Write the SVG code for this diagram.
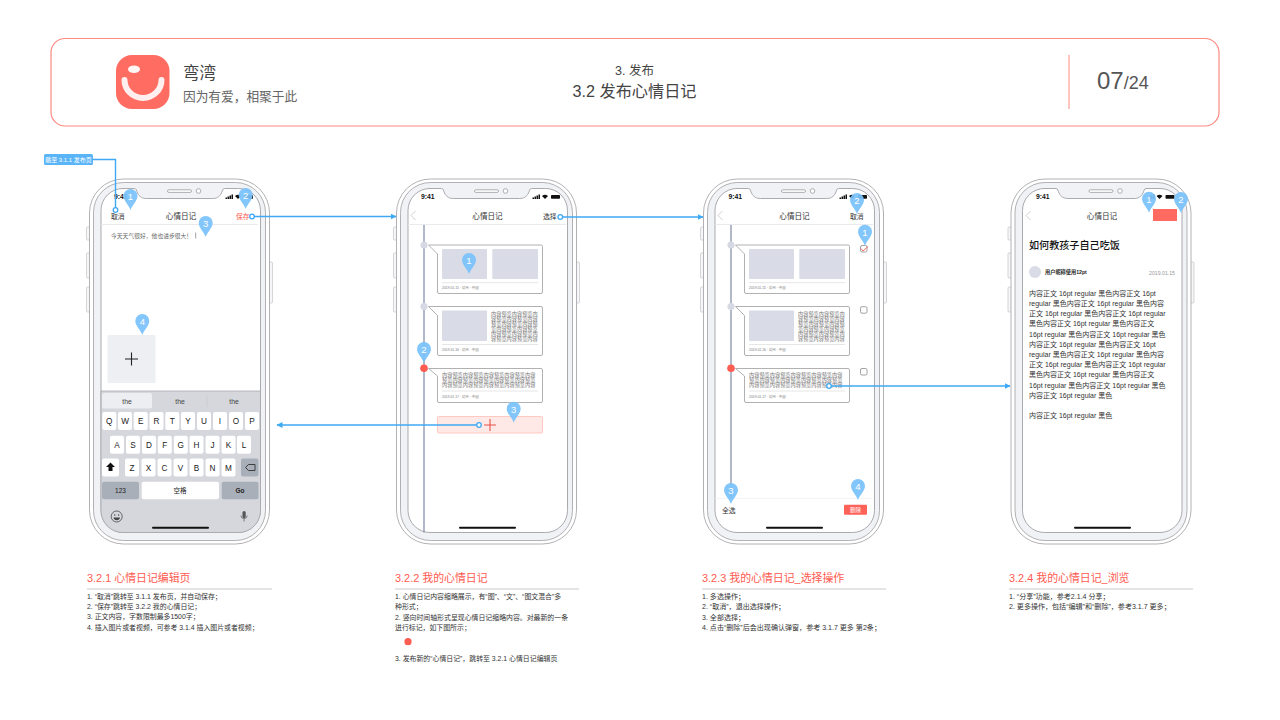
<svg xmlns="http://www.w3.org/2000/svg" xmlns:xlink="http://www.w3.org/1999/xlink" width="1280" height="720" viewBox="0 0 1280 720">
<style>
svg>g{opacity:.999}
text{font-family:"Liberation Sans","Noto Sans CJK SC",sans-serif;fill:#333}
.nav{font-size:7.6px;text-anchor:middle}
.act{font-size:6.8px}
.time{font-size:6.8px;font-weight:700;fill:#111}
.h{font-size:10.9px;fill:#ff5a50}
.b{font-size:6.9px;fill:#333}
.b2{font-size:7.05px;fill:#333}
.rule{stroke:#cacaca;stroke-width:1}
.pn{font-size:9.5px;fill:#fff;text-anchor:middle}
.key{font-size:8.2px;text-anchor:middle;fill:#222}
.k{fill:#fff}
.kd{fill:#a9afb9}
.sug{font-size:6.8px;text-anchor:middle;fill:#444}
.card{fill:#fff;stroke:#a8a8a8;stroke-width:.9}
.img{fill:#d9dce6}
.dv{stroke:#e6e6e6;stroke-width:1}
.meta{font-size:3.4px;fill:#777}
.pre{font-size:5.2px;fill:#777}
.body{font-size:7px;fill:#333}
.line{stroke:#e9e9ee;stroke-width:1}
.chev{fill:none;stroke:#c8c8c8;stroke-width:.9}
.tl{stroke:#7f89a6;stroke-width:1.2}
.dot{fill:#d6d9e3}
.red{fill:#ff5c52}
.cb{fill:#fff;stroke:#8a8a8a;stroke-width:.8}
.cn{fill:none;stroke:#3fa9f5;stroke-width:1.4}
.cc{fill:#fff;stroke:#3ea8f6;stroke-width:1.3}
</style>
<defs>
<g id="frame">
<rect x="-3" y="48" width="4" height="13" rx="1" fill="#f6f6f8" stroke="#c4c4c8" stroke-width=".7"/>
<rect x="-3" y="74" width="4" height="25" rx="1" fill="#f6f6f8" stroke="#c4c4c8" stroke-width=".7"/>
<rect x="-3" y="108" width="4" height="25" rx="1" fill="#f6f6f8" stroke="#c4c4c8" stroke-width=".7"/>
<rect x="179" y="83" width="4" height="41" rx="1" fill="#f6f6f8" stroke="#c4c4c8" stroke-width=".7"/>
<rect x="0" y="0" width="180" height="365" rx="34" fill="#fff" stroke="#a9a9ad" stroke-width=".9"/>
<rect x="4" y="3.500" width="172" height="358" rx="30" fill="#f1f2f5" stroke="#a9a9ad" stroke-width=".9"/>
<path d="M33 9.500H45C47 9.500 47 12 48 14C50 18 53 19.500 57 19.500H123C127 19.500 130 18 132 14C133 12 133 9.500 135 9.500H149A22 22 0 0 1 171 31.500V331.500A22 22 0 0 1 149 353.500H33.500A22 22 0 0 1 11.500 331.500V31.500A22 22 0 0 1 33.500 9.500Z" fill="#fff" stroke="#a2a2a6" stroke-width=".9"/>
<rect x="78" y="10.800" width="24" height="2.600" rx="1.300" fill="#fff" stroke="#8f8f93" stroke-width=".7"/>
<circle cx="109" cy="12" r="2.300" fill="#fff" stroke="#8f8f93" stroke-width=".7"/>
</g>
<g id="status">
<rect x="136" y="18.500" width="1.500" height="1.500" fill="#111"/><rect x="138" y="17.500" width="1.500" height="2.500" fill="#111"/><rect x="140" y="16.500" width="1.500" height="3.500" fill="#111"/><rect x="142" y="15.500" width="1.500" height="4.500" fill="#111"/>
<path d="M145.500 17A4.500 4.500 0 0 1 151.500 17L148.500 20Z" fill="#111"/>
<rect x="154.500" y="16" width="9" height="3.800" rx=".8" fill="#111"/>
</g>
<path id="pin" d="M0 0C-1.500 -5 -7 -9 -7 -14A7 7 0 1 1 7 -14C7 -9 1.500 -5 0 0Z" fill="#78c2fb" fill-opacity=".93"/>
<marker id="arr" markerWidth="7" markerHeight="7" refX="5.500" refY="3" orient="auto" markerUnits="userSpaceOnUse"><path d="M0 0L6 3L0 6Z" fill="#3fa9f5"/></marker>
</defs>
<rect width="1280" height="720" fill="#fff"/>

<g id="header">
<rect x="51" y="38.500" width="1168" height="87.500" rx="14" fill="#fff" stroke="#ff8a80" stroke-width="1.200"/>
<rect x="116" y="55" width="53.500" height="54" rx="16" fill="#ff6c62"/>
<ellipse cx="134" cy="69.300" rx="6" ry="3.800" fill="#fff6f5"/>
<path d="M124.500 80A18.500 18 0 0 0 161.500 80" fill="none" stroke="#fff" stroke-opacity=".9" stroke-width="6" stroke-linecap="round"/>
<text x="183" y="78.500" font-size="16.500" style="fill:#444">弯湾</text>
<text x="183" y="101" font-size="12.700" style="fill:#666">因为有爱，相聚于此</text>
<text x="634.500" y="75" font-size="12.500" text-anchor="middle" style="fill:#444">3. 发布</text>
<text x="634.500" y="96.500" font-size="16.200" text-anchor="middle" style="fill:#444">3.2 发布心情日记</text>
<line x1="1069" y1="55" x2="1069" y2="109" stroke="#ff8a80" stroke-width="1"/>
<text x="1097" y="89" font-size="24" style="fill:#555">07<tspan font-size="18">/24</tspan></text>
</g>

<g id="phone-1">
<use href="#frame" x="89.500" y="179"/>
<use href="#status" x="89.500" y="179"/>
<text class="time" x="114" y="198.700">9:41</text>
<text class="act" x="111" y="218.500">取消</text>
<text class="nav" x="181" y="218.500">心情日记</text>
<text class="act" x="236" y="218.500" style="fill:#ff5a50">保存</text>
<line class="line" x1="101" y1="224.500" x2="258" y2="224.500"/>
<text x="111" y="237.500" font-size="5.800" style="fill:#666">今天天气很好，他也进步很大！</text>
<line x1="195.700" y1="232.500" x2="195.700" y2="238.500" stroke="#666" stroke-width=".6"/>
<rect x="107.500" y="335" width="48" height="48" rx="1" fill="#eeeff3"/>
<path d="M125 359H138M131.500 352.500V365.500" stroke="#222" stroke-width="1.100"/>
<path d="M101 391H260.500V510.500A22 22 0 0 1 238.500 532.500H123A22 22 0 0 1 101 510.500Z" fill="#d5d7dd" stroke="#a2a2a6" stroke-width=".7"/>
<rect x="102" y="393" width="50" height="15.500" rx="2" fill="#eceef1"/>
<line x1="207" y1="396" x2="207" y2="407" stroke="#c4c6cc" stroke-width=".6"/>
<text class="sug" x="127" y="403.500">the</text><text class="sug" x="180" y="403.500">the</text><text class="sug" x="234" y="403.500">the</text>
<g>
<rect class="k" x="102.300" y="412" width="14" height="18" rx="2"/><rect class="k" x="118" y="412" width="14" height="18" rx="2"/><rect class="k" x="133.700" y="412" width="14" height="18" rx="2"/><rect class="k" x="149.500" y="412" width="14" height="18" rx="2"/><rect class="k" x="165.300" y="412" width="14" height="18" rx="2"/><rect class="k" x="181" y="412" width="14" height="18" rx="2"/><rect class="k" x="197" y="412" width="14" height="18" rx="2"/><rect class="k" x="213" y="412" width="14" height="18" rx="2"/><rect class="k" x="229" y="412" width="14" height="18" rx="2"/><rect class="k" x="245" y="412" width="14" height="18" rx="2"/>
<text class="key" x="109.300" y="424">Q</text><text class="key" x="125" y="424">W</text><text class="key" x="140.700" y="424">E</text><text class="key" x="156.500" y="424">R</text><text class="key" x="172.300" y="424">T</text><text class="key" x="188" y="424">Y</text><text class="key" x="204" y="424">U</text><text class="key" x="220" y="424">I</text><text class="key" x="236" y="424">O</text><text class="key" x="252" y="424">P</text>
<rect class="k" x="110" y="435.700" width="14" height="18" rx="2"/><rect class="k" x="126" y="435.700" width="14" height="18" rx="2"/><rect class="k" x="142" y="435.700" width="14" height="18" rx="2"/><rect class="k" x="157.800" y="435.700" width="14" height="18" rx="2"/><rect class="k" x="173.800" y="435.700" width="14" height="18" rx="2"/><rect class="k" x="189.500" y="435.700" width="14" height="18" rx="2"/><rect class="k" x="205.500" y="435.700" width="14" height="18" rx="2"/><rect class="k" x="221.500" y="435.700" width="14" height="18" rx="2"/><rect class="k" x="237" y="435.700" width="14" height="18" rx="2"/>
<text class="key" x="117" y="447.700">A</text><text class="key" x="133" y="447.700">S</text><text class="key" x="149" y="447.700">D</text><text class="key" x="164.800" y="447.700">F</text><text class="key" x="180.800" y="447.700">G</text><text class="key" x="196.500" y="447.700">H</text><text class="key" x="212.500" y="447.700">J</text><text class="key" x="228.500" y="447.700">K</text><text class="key" x="244" y="447.700">L</text>
<rect class="k" x="102" y="458.500" width="17" height="18" rx="2"/><path d="M106 467L110.500 462.500L115 467H112.500V471H108.500V467Z" fill="#111"/>
<rect class="k" x="125" y="458.500" width="14" height="18" rx="2"/><rect class="k" x="141.500" y="458.500" width="14" height="18" rx="2"/><rect class="k" x="157.500" y="458.500" width="14" height="18" rx="2"/><rect class="k" x="173.500" y="458.500" width="14" height="18" rx="2"/><rect class="k" x="189.500" y="458.500" width="14" height="18" rx="2"/><rect class="k" x="205.500" y="458.500" width="14" height="18" rx="2"/><rect class="k" x="221.500" y="458.500" width="14" height="18" rx="2"/>
<text class="key" x="132" y="470.500">Z</text><text class="key" x="148.500" y="470.500">X</text><text class="key" x="164.500" y="470.500">C</text><text class="key" x="180.500" y="470.500">V</text><text class="key" x="196.500" y="470.500">B</text><text class="key" x="212.500" y="470.500">N</text><text class="key" x="228.500" y="470.500">M</text>
<rect class="kd" x="241" y="458.500" width="17.500" height="18" rx="2"/><path d="M245.500 467.500L248.500 464.500H255V470.500H248.500Z" fill="none" stroke="#222" stroke-width=".8"/>
<rect class="kd" x="102" y="481.700" width="37" height="17.500" rx="2"/><rect class="k" x="141.700" y="481.700" width="77.300" height="17.500" rx="2"/><rect class="kd" x="221.700" y="481.700" width="36.800" height="17.500" rx="2"/>
<text class="key" x="120.500" y="493" style="font-size:6.500px">123</text><text class="key" x="180" y="493" style="font-size:6.500px">空格</text><text class="key" x="240" y="493" style="font-size:6.500px;font-weight:700">Go</text>
<circle cx="116.700" cy="516.500" r="5.500" fill="none" stroke="#444" stroke-width=".8"/><path d="M113.500 517.500A3.300 3.300 0 0 0 120 517.500Z" fill="#444"/><circle cx="114.800" cy="515" r=".7" fill="#444"/><circle cx="118.600" cy="515" r=".7" fill="#444"/>
<rect x="242.500" y="511" width="3.200" height="7" rx="1.600" fill="#555"/><path d="M241 515.500A3 3 0 0 0 247.200 515.500M244.100 518.500V521.500" fill="none" stroke="#555" stroke-width=".7"/>
</g>
<rect x="152" y="526.800" width="57" height="2" rx="1" fill="#111"/>
<use href="#pin" x="130.500" y="210"/><text class="pn" x="130.500" y="200">1</text>
<use href="#pin" x="245.700" y="209"/><text class="pn" x="245.700" y="199">2</text>
<use href="#pin" x="205.700" y="237"/><text class="pn" x="205.700" y="227">3</text>
<use href="#pin" x="142.300" y="335"/><text class="pn" x="142.300" y="325">4</text>
</g>

<g id="phone-2">
<use href="#frame" x="396.500" y="179"/>
<use href="#status" x="396.500" y="179"/>
<text class="time" x="421" y="198.700">9:41</text>
<path class="chev" d="M415.500 211L411 215.500L415.500 220"/>
<text class="nav" x="487.500" y="218.500">心情日记</text>
<text class="act" x="543" y="218.500">选择</text>
<line class="line" x1="408" y1="224.500" x2="566" y2="224.500"/>
<line class="tl" x1="424" y1="225" x2="424" y2="532.500"/>
<circle class="dot" cx="424" cy="245" r="3.600"/><circle class="dot" cx="424" cy="306.500" r="3.600"/><circle class="red" cx="424" cy="368.300" r="3.800"/>
<path class="card" d="M428.500 245H541A1.500 1.500 0 0 1 542.500 246.500V292A1.500 1.500 0 0 1 541 293.500H439A1.500 1.500 0 0 1 437.500 292V254Z"/>
<rect class="img" x="442" y="249" width="45" height="30" rx=".8"/><rect class="img" x="492.300" y="249" width="45.700" height="30" rx=".8"/>
<line class="dv" x1="442" y1="282.700" x2="538" y2="282.700"/>
<text class="meta" x="442" y="289">2019.01.15 · 杭州 · 中国</text>
<path class="card" d="M428.500 306.500H541A1.500 1.500 0 0 1 542.500 308V354A1.500 1.500 0 0 1 541 355.500H439A1.500 1.500 0 0 1 437.500 354V315.500Z"/>
<rect class="img" x="442" y="310.500" width="45" height="30.500" rx=".8"/>
<text class="pre"><tspan x="491" y="315.500">内容预览内容预览内</tspan><tspan x="491" y="320.500">容预览内容预览内容</tspan><tspan x="491" y="325.500">预览内容预览内容预</tspan><tspan x="491" y="330.500">览内容预览内容预览</tspan><tspan x="491" y="335.500">内容预览内容预览内</tspan><tspan x="491" y="340.500">容预览内容预览内容</tspan></text>
<line class="dv" x1="442" y1="344.500" x2="538" y2="344.500"/>
<text class="meta" x="442" y="351">2019.01.16 · 杭州 · 中国</text>
<path class="card" d="M428.500 368.500H541A1.500 1.500 0 0 1 542.500 370V401A1.500 1.500 0 0 1 541 402.500H439A1.500 1.500 0 0 1 437.500 401V376Z"/>
<text class="pre"><tspan x="442" y="376.500">内容预览内容预览内容预览内容预览内容</tspan><tspan x="442" y="381.500">预览内容预览内容预览内容预览内容预览</tspan><tspan x="442" y="386.500">内容预览内容预览内容预览内容预览内容</tspan></text>
<line class="dv" x1="442" y1="391" x2="538" y2="391"/>
<text class="meta" x="442" y="398">2019.01.17 · 杭州 · 中国</text>
<rect x="437.500" y="416.500" width="105" height="16.500" rx="1" fill="#ffe9e7" stroke="#ffbcb6" stroke-width=".8"/>
<path d="M484 425H496M490 419V431" stroke="#e8534a" stroke-width="1.100"/>
<rect x="459" y="526.800" width="57" height="2" rx="1" fill="#111"/>
<use href="#pin" x="469" y="274"/><text class="pn" x="469" y="264">1</text>
<use href="#pin" x="424" y="363"/><text class="pn" x="424" y="353">2</text>
<use href="#pin" x="513.700" y="422.700"/><text class="pn" x="513.700" y="412.700">3</text>
</g>

<g id="phone-3">
<use href="#frame" x="703.500" y="179"/>
<use href="#status" x="703.500" y="179"/>
<text class="time" x="728.500" y="198.700">9:41</text>
<path class="chev" d="M722.500 211L718 215.500L722.500 220"/>
<text class="nav" x="794.500" y="218.500">心情日记</text>
<text class="act" x="850" y="218.500">取消</text>
<line class="line" x1="715" y1="224.500" x2="873" y2="224.500"/>
<line class="tl" x1="731" y1="225" x2="731" y2="498"/>
<circle class="dot" cx="731" cy="245" r="3.600"/><circle class="dot" cx="731" cy="306.500" r="3.600"/><circle class="red" cx="731" cy="368.300" r="3.800"/>
<path class="card" d="M735.500 245H848A1.500 1.500 0 0 1 849.500 246.500V292A1.500 1.500 0 0 1 848 293.500H746A1.500 1.500 0 0 1 744.500 292V254Z"/>
<rect class="img" x="749" y="249" width="45" height="30" rx=".8"/><rect class="img" x="799.300" y="249" width="45.700" height="30" rx=".8"/>
<line class="dv" x1="749" y1="282.700" x2="845" y2="282.700"/>
<text class="meta" x="749" y="289">2019.01.15 · 杭州 · 中国</text>
<path class="card" d="M735.500 306.500H848A1.500 1.500 0 0 1 849.500 308V354A1.500 1.500 0 0 1 848 355.500H746A1.500 1.500 0 0 1 744.500 354V315.500Z"/>
<rect class="img" x="749" y="310.500" width="45" height="30.500" rx=".8"/>
<text class="pre"><tspan x="798" y="315.500">内容预览内容预览内</tspan><tspan x="798" y="320.500">容预览内容预览内容</tspan><tspan x="798" y="325.500">预览内容预览内容预</tspan><tspan x="798" y="330.500">览内容预览内容预览</tspan><tspan x="798" y="335.500">内容预览内容预览内</tspan><tspan x="798" y="340.500">容预览内容预览内容</tspan></text>
<line class="dv" x1="749" y1="344.500" x2="845" y2="344.500"/>
<text class="meta" x="749" y="351">2019.01.16 · 杭州 · 中国</text>
<path class="card" d="M735.500 368.500H848A1.500 1.500 0 0 1 849.500 370V401A1.500 1.500 0 0 1 848 402.500H746A1.500 1.500 0 0 1 744.500 401V376Z"/>
<text class="pre"><tspan x="749" y="376.500">内容预览内容预览内容预览内容预览内容</tspan><tspan x="749" y="381.500">预览内容预览内容预览内容预览内容预览</tspan><tspan x="749" y="386.500">内容预览内容预览内容预览内容预览内容</tspan></text>
<line class="dv" x1="749" y1="391" x2="845" y2="391"/>
<text class="meta" x="749" y="398">2019.01.17 · 杭州 · 中国</text>
<rect class="cb" x="860.500" y="245.500" width="6.500" height="6.500" rx="1.500"/>
<path d="M861 248.500L863 251L868 246.500" fill="none" stroke="#ff5a50" stroke-width=".9"/>
<rect class="cb" x="860.500" y="306.700" width="6.500" height="6.500" rx="1.500"/>
<rect class="cb" x="860.500" y="368.500" width="6.500" height="6.500" rx="1.500"/>
<line x1="715" y1="498.300" x2="873" y2="498.300" stroke="#f2f2f4" stroke-width="1"/>
<text class="act" x="722" y="513">全选</text>
<rect x="844" y="504.700" width="23" height="10" rx="1" fill="#ff6259"/>
<text x="855.500" y="512" font-size="5.500" text-anchor="middle" style="fill:#fff">删除</text>
<rect x="766" y="526.800" width="57" height="2" rx="1" fill="#111"/>
<use href="#pin" x="865" y="245.700"/><text class="pn" x="865" y="235.700">1</text>
<use href="#pin" x="857" y="214"/><text class="pn" x="857" y="204">2</text>
<use href="#pin" x="731" y="504"/><text class="pn" x="731" y="494">3</text>
<use href="#pin" x="858" y="500"/><text class="pn" x="858" y="490">4</text>
</g>

<g id="phone-4">
<use href="#frame" x="1011" y="179"/>
<use href="#status" x="1011" y="179"/>
<text class="time" x="1036" y="198.700">9:41</text>
<path class="chev" d="M1030.500 211L1026 215.500L1030.500 220"/>
<text class="nav" x="1102" y="218.500">心情日记</text>
<rect x="1153" y="209" width="24" height="12" fill="#ff6b61"/>
<text x="1029" y="249" font-size="10.100" font-weight="500" style="fill:#111">如何教孩子自己吃饭</text>
<circle cx="1035" cy="272" r="6" fill="#d9dce6"/>
<text x="1045" y="274" font-size="5.200" font-weight="700" style="fill:#222">用户昵称使用12pt</text>
<text x="1175" y="274.500" font-size="5.200" text-anchor="end" style="fill:#999">2019.01.15</text>
<text class="body"><tspan x="1029" y="295.700">内容正文 16pt regular 黑色内容正文 16pt</tspan><tspan x="1029" y="305.900">regular 黑色内容正文 16pt regular 黑色内容</tspan><tspan x="1029" y="316.100">正文 16pt regular 黑色内容正文 16pt regular</tspan><tspan x="1029" y="326.300">黑色内容正文 16pt regular 黑色内容正文</tspan><tspan x="1029" y="336.500">16pt regular 黑色内容正文 16pt regular 黑色</tspan><tspan x="1029" y="346.700">内容正文 16pt regular 黑色内容正文 16pt</tspan><tspan x="1029" y="356.900">regular 黑色内容正文 16pt regular 黑色内容</tspan><tspan x="1029" y="367.100">正文 16pt regular 黑色内容正文 16pt regular</tspan><tspan x="1029" y="377.300">黑色内容正文 16pt regular 黑色内容正文</tspan><tspan x="1029" y="387.500">16pt regular 黑色内容正文 16pt regular 黑色</tspan><tspan x="1029" y="397.700">内容正文 16pt regular 黑色</tspan><tspan x="1029" y="418.100">内容正文 16pt regular 黑色</tspan></text>
<rect x="1074" y="526.800" width="57" height="2" rx="1" fill="#111"/>
<use href="#pin" x="1149" y="212.700"/><text class="pn" x="1149" y="202.700">1</text>
<use href="#pin" x="1181" y="213"/><text class="pn" x="1181" y="203">2</text>
</g>

<g id="jump-label">
<rect x="44" y="154" width="49" height="11" rx="1.500" fill="#5ab4f8"/>
<text x="68.500" y="162" font-size="6" text-anchor="middle" style="fill:#fff">跳至 3.1.1 发布页</text>
</g>

<g id="connectors">
<path class="cn" d="M93 159.500H115.500V208"/><circle class="cc" cx="115.500" cy="210" r="2.300"/>
<path class="cn" d="M254 216.500H396" marker-end="url(#arr)"/><circle class="cc" cx="252" cy="216.500" r="2.300"/>
<path class="cn" d="M562.500 217H703" marker-end="url(#arr)"/><circle class="cc" cx="560.300" cy="217" r="2.300"/>
<path class="cn" d="M477 425H277" marker-end="url(#arr)"/><circle class="cc" cx="479" cy="425" r="2.300"/>
<path class="cn" d="M831 386H1010" marker-end="url(#arr)"/><circle class="cc" cx="829" cy="386" r="2.300"/>
</g>

<g id="note-1">
<text class="h" x="87" y="581.500">3.2.1 心情日记编辑页</text>
<line class="rule" x1="87" y1="589" x2="272" y2="589"/>
<text class="b"><tspan x="87" y="599">1. “取消”跳转至 3.1.1 发布页，并自动保存；</tspan><tspan x="87" y="609">2. “保存”跳转至 3.2.2 我的心情日记；</tspan><tspan x="87" y="619">3. 正文内容，字数限制最多1500字；</tspan><tspan x="87" y="629.500">4. 插入图片或者视频，可参考 3.1.4 插入图片或者视频；</tspan></text>
</g>
<g id="note-2">
<text class="h" x="395" y="581.500">3.2.2 我的心情日记</text>
<line class="rule" x1="395" y1="589" x2="579" y2="589"/>
<text class="b"><tspan x="395" y="599">1. 心情日记内容缩略展示，有“图”、“文”、“图文混合”多</tspan><tspan x="395" y="609">种形式；</tspan><tspan x="395" y="619.500">2. 竖向时间轴形式呈现心情日记缩略内容。对最新的一条</tspan><tspan x="395" y="629.500">进行标记，如下图所示；</tspan><tspan x="395" y="660.500">3. 发布新的“心情日记”，跳转至 3.2.1 心情日记编辑页</tspan></text>
<circle class="red" cx="408" cy="641.700" r="3.600"/>
</g>
<g id="note-3">
<text class="h" x="702" y="581.500">3.2.3 我的心情日记_选择操作</text>
<line class="rule" x1="702" y1="589" x2="886" y2="589"/>
<text class="b2"><tspan x="702" y="599">1. 多选操作；</tspan><tspan x="702" y="609">2. “取消”，退出选择操作；</tspan><tspan x="702" y="619.500">3. 全部选择；</tspan><tspan x="702" y="629.500">4. 点击“删除”后会出现确认弹窗，参考 3.1.7 更多 第2条；</tspan></text>
</g>
<g id="note-4">
<text class="h" x="1009" y="581.500">3.2.4 我的心情日记_浏览</text>
<line class="rule" x1="1009" y1="589" x2="1193" y2="589"/>
<text class="b2"><tspan x="1009" y="599">1. “分享”功能，参考2.1.4 分享；</tspan><tspan x="1009" y="609">2. 更多操作，包括“编辑”和“删除”，参考3.1.7 更多；</tspan></text>
</g>
</svg>
